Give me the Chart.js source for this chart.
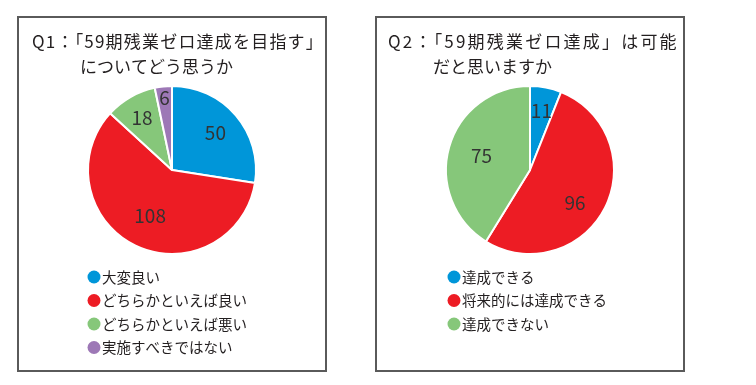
<!DOCTYPE html>
<html>
<head>
<meta charset="utf-8">
<script src="https://cdn.jsdelivr.net/npm/chart.js@4/dist/chart.umd.min.js"></script>
<style>
  body { margin: 0; background: #fff; width: 756px; height: 385px; position: relative; overflow: hidden; }
  .panel { position: absolute; top: 16px; width: 310px; height: 356px; box-sizing: border-box; border: 2px solid #5a5a5a; }
  .panel canvas { display: block; }
</style>
</head>
<body>

<div class="panel" style="left:17px"><canvas id="chartQ1" width="306" height="352"></canvas></div>
<div class="panel" style="left:375px"><canvas id="chartQ2" width="306" height="352"></canvas></div>

<script>
// data
const q1Title = ["Q1：「59期残業ゼロ達成を目指す」", "についてどう思うか"];
const q1Labels = ["大変良い", "どちらかといえば良い", "どちらかといえば悪い", "実施すべきではない"];
const q1Values = [50, 108, 18, 6];

const q2Title = ["Q2：「59期残業ゼロ達成」は可能", "だと思いますか"];
const q2Labels = ["達成できる", "将来的には達成できる", "達成できない"];
const q2Values = [11, 96, 75];

const sliceColors = ["#0096d9", "#ed1c24", "#86c77a", "#9d78b6"];

const FONT = "'Noto Sans CJK JP', 'Noto Sans', sans-serif";

// title lines, value labels and the round-dot legend drawn on the canvas
const panelText = {
  id: "panelText",
  afterDraw(chart, args, opts) {
    const ctx = chart.ctx;
    ctx.save();
    ctx.fillStyle = "#231f20";
    ctx.textBaseline = "middle";
    ctx.textAlign = "left";

    // title (first line is set a bit looser)
    ctx.font = "17px " + FONT;
    opts.title.forEach((line, i) => {
      ctx.letterSpacing = i === 0 ? opts.titleSpacing + "px" : "0px";
      ctx.fillText(line, opts.titleX[i], 24 + i * 25);
    });
    ctx.letterSpacing = "0px";

    // numbers in slices
    const meta = chart.getDatasetMeta(0);
    ctx.font = "19px " + FONT;
    ctx.fillStyle = "#333";
    ctx.textAlign = "center";
    meta.data.forEach((arc, i) => {
      const p = arc.getProps(["x", "y", "startAngle", "endAngle", "outerRadius"], true);
      const mid = (p.startAngle + p.endAngle) / 2 + (opts.labelTurn[i] || 0) * Math.PI / 180;
      const r = p.outerRadius * opts.labelRadius[i];
      ctx.fillText(chart.data.datasets[0].data[i], p.x + Math.cos(mid) * r, p.y + Math.sin(mid) * r);
    });

    // legend
    ctx.font = "14.5px " + FONT;
    ctx.textAlign = "left";
    chart.data.labels.forEach((lab, i) => {
      const y = 259 + i * 23.5;
      ctx.fillStyle = chart.data.datasets[0].backgroundColor[i];
      ctx.beginPath();
      ctx.arc(opts.legendX, y, 6.5, 0, Math.PI * 2);
      ctx.fill();
      ctx.fillStyle = "#231f20";
      ctx.fillText(lab, opts.legendX + 8, y);
    });
    ctx.restore();
  }
};

function makePie(id, labels, values, text) {
  return new Chart(document.getElementById(id), {
    type: "pie",
    data: {
      labels: labels,
      datasets: [{
        data: values,
        backgroundColor: sliceColors.slice(0, values.length),
        borderColor: "#fff",
        borderWidth: 2,
        hoverOffset: 0
      }]
    },
    options: {
      responsive: false,
      animation: false,
      radius: 84,
      layout: { padding: { top: 60, bottom: 108 } },
      plugins: {
        legend: { display: false },
        tooltip: { enabled: false },
        panelText: text
      }
    },
    plugins: [panelText]
  });
}

makePie("chartQ1", q1Labels, q1Values, {
  title: q1Title, titleX: [13, 61], titleSpacing: 1.2,
  labelRadius: [0.68, 0.6, 0.72, 0.87], labelTurn: [0, 0, 0, 0], legendX: 75
});
makePie("chartQ2", q2Labels, q2Values, {
  title: q2Title, titleX: [11, 56], titleSpacing: 2.2,
  labelRadius: [0.72, 0.66, 0.6], labelTurn: [0, 9, 0], legendX: 77
});
</script>
</body>
</html>
